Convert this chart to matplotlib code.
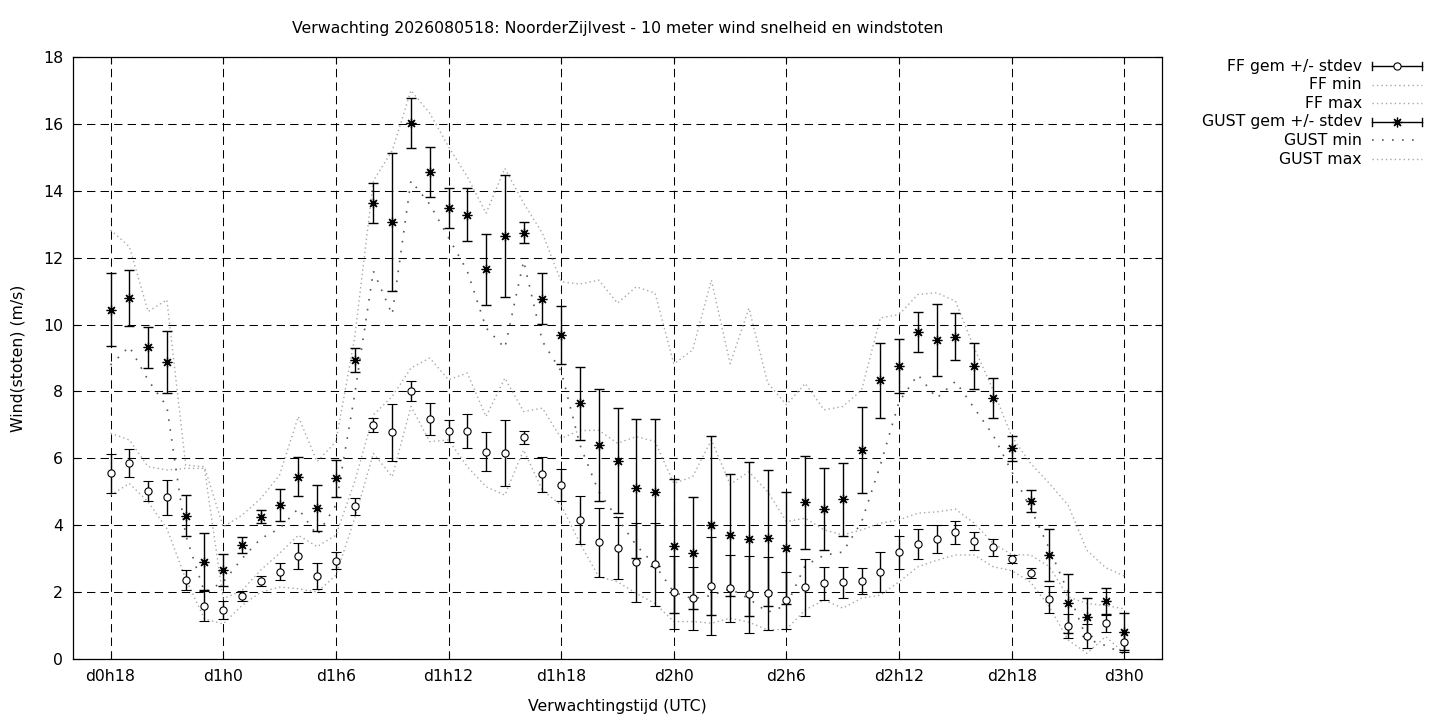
import matplotlib
matplotlib.use("Agg")
import matplotlib.pyplot as plt
from matplotlib.lines import Line2D

# ---- data -------------------------------------------------------------
hours = list(range(18, 73))

ff_mean = [5.55, 5.85, 5.02, 4.83, 2.36, 1.58, 1.47, 1.88, 2.33, 2.61,
           3.08, 2.48, 2.94, 4.56, 7.00, 6.78, 8.01, 7.17, 6.82, 6.82,
           6.20, 6.17, 6.63, 5.52, 5.20, 4.16, 3.49, 3.31, 2.89, 2.83,
           1.99, 1.81, 2.18, 2.11, 1.94, 1.96, 1.76, 2.14, 2.26, 2.29,
           2.33, 2.59, 3.19, 3.43, 3.59, 3.79, 3.53, 3.34, 2.99, 2.56,
           1.78, 0.99, 0.69, 1.07, 0.50]
ff_std = [0.58, 0.42, 0.29, 0.52, 0.30, 0.45, 0.26, 0.16, 0.14, 0.26,
          0.38, 0.38, 0.25, 0.26, 0.22, 0.85, 0.29, 0.47, 0.34, 0.52,
          0.58, 0.99, 0.20, 0.52, 0.48, 0.71, 1.03, 0.93, 1.18, 1.25,
          1.10, 0.94, 1.46, 1.00, 1.15, 1.09, 0.85, 0.85, 0.49, 0.47,
          0.39, 0.60, 0.50, 0.45, 0.41, 0.35, 0.26, 0.25, 0.13, 0.15,
          0.40, 0.35, 0.37, 0.25, 0.30]
ff_min = [4.90, 5.25, 4.70, 3.90, 2.40, 1.20, 1.05, 1.60, 2.00, 2.15,
          2.10, 2.00, 2.50, 4.20, 6.15, 5.45, 7.55, 6.50, 6.55, 5.75,
          5.15, 4.90, 6.25, 5.05, 4.60, 3.46, 2.46, 2.31, 1.96, 1.66,
          1.12, 1.12, 1.07, 1.22, 1.10, 0.87, 0.89, 1.47, 1.76, 1.52,
          1.82, 1.91, 2.31, 2.76, 2.95, 3.11, 3.11, 2.76, 2.64, 2.30,
          1.56, 0.57, 0.17, 0.67, 0.17]
ff_max = [6.75, 6.55, 5.75, 5.65, 5.70, 5.70, 1.80, 2.05, 2.66, 3.16,
          3.70, 3.36, 3.70, 5.30, 7.30, 7.85, 8.70, 9.00, 8.35, 8.55,
          7.25, 8.40, 7.40, 7.50, 6.60, 6.83, 6.84, 6.45, 6.65, 6.50,
          5.25, 5.45, 6.55, 5.22, 5.60, 5.00, 4.11, 4.21, 3.86, 3.71,
          3.86, 4.06, 4.16, 4.36, 4.40, 4.48, 4.06, 3.46, 3.12, 3.11,
          2.76, 1.86, 1.66, 1.60, 1.50]

gust_mean = [10.44, 10.79, 9.32, 8.87, 4.28, 2.91, 2.66, 3.41, 4.26, 4.61,
             5.45, 4.51, 5.40, 8.94, 13.63, 13.06, 16.02, 14.55, 13.48, 13.28,
             11.65, 12.65, 12.75, 10.77, 9.68, 7.65, 6.39, 5.93, 5.10, 4.98,
             3.38, 3.16, 4.00, 3.70, 3.58, 3.61, 3.31, 4.68, 4.48, 4.77,
             6.24, 8.33, 8.75, 9.77, 9.54, 9.64, 8.76, 7.80, 6.30, 4.73,
             3.11, 1.66, 1.25, 1.73, 0.82]
gust_std = [1.09, 0.84, 0.61, 0.93, 0.61, 0.85, 0.48, 0.25, 0.19, 0.48,
            0.58, 0.68, 0.55, 0.36, 0.60, 2.06, 0.75, 0.75, 0.60, 0.79,
            1.06, 1.83, 0.31, 0.76, 0.86, 1.09, 1.68, 1.57, 2.07, 2.20,
            2.00, 1.67, 2.68, 1.83, 2.30, 2.03, 1.67, 1.39, 1.22, 1.08,
            1.28, 1.11, 0.81, 0.60, 1.08, 0.70, 0.68, 0.60, 0.38, 0.32,
            0.77, 0.88, 0.57, 0.38, 0.55]
gust_min = [8.79, 9.34, 8.34, 7.55, 3.70, 2.00, 2.30, 3.00, 3.60, 3.90,
            4.50, 3.70, 4.60, 7.90, 11.60, 10.30, 14.30, 13.60, 12.60, 11.60,
            9.90, 9.30, 11.90, 9.50, 8.60, 6.40, 5.00, 4.20, 3.40, 2.80,
            2.00, 1.80, 1.90, 2.10, 1.80, 1.40, 1.60, 2.80, 3.10, 3.20,
            4.10, 5.80, 7.70, 8.50, 7.80, 8.30, 7.50, 6.70, 5.60, 4.50,
            3.30, 2.00, 0.60, 0.40, 0.15]
gust_max = [12.83, 12.33, 10.39, 10.74, 5.80, 5.75, 3.95, 4.30, 4.80, 5.50,
            7.25, 5.90, 6.50, 9.60, 14.30, 15.20, 17.00, 16.32, 15.32, 14.42,
            13.33, 14.67, 13.63, 12.73, 11.28, 11.21, 11.33, 10.64, 11.13, 10.94,
            8.82, 9.24, 11.33, 8.83, 10.49, 8.25, 7.60, 8.24, 7.45, 7.55,
            8.04, 10.20, 10.30, 10.90, 10.95, 10.70, 9.30, 8.05, 6.65, 5.85,
            5.25, 4.60, 3.25, 2.73, 2.48]

tick_hours = list(range(18, 73, 6))
tick_labels = ["d%dh%d" % (h // 24, h % 24) for h in tick_hours]
y_ticks = list(range(0, 19, 2))

title = "Verwachting 2026080518: NoorderZijlvest - 10 meter wind snelheid en windstoten"
legend_labels = ["FF gem +/- stdev", "FF min", "FF max",
                 "GUST gem +/- stdev", "GUST min", "GUST max"]

# ---- style -------------------------------------------------------------
W, H = 1440, 720
FS = 11.35
LIGHT = "#a8a8a8"
DARK = "#5a5a5a"
light_ls = (0, (1, 2.2))
dark_ls = (0, (1, 5))
star = (8, 2, 0)

fig = plt.figure(figsize=(W / 100, H / 100), dpi=100)
L, R, T, B = 73, 1162, 57, 659
ax = fig.add_axes([L / W, 1 - B / H, (R - L) / W, (B - T) / H])

ax.plot(hours, ff_min, color=LIGHT, lw=1.0, ls=light_ls, zorder=2)
ax.plot(hours, ff_max, color=LIGHT, lw=1.0, ls=light_ls, zorder=2)
ax.plot(hours, gust_min, color=DARK, lw=1.2, ls=dark_ls, zorder=2)
ax.plot(hours, gust_max, color=LIGHT, lw=1.0, ls=light_ls, zorder=2)

ax.errorbar(hours, ff_mean, yerr=ff_std, fmt="o", ms=5.2, mfc="white",
            mec="black", mew=0.8, ecolor="black", elinewidth=1.0,
            capsize=3.6, capthick=1.0, zorder=4)
ax.errorbar(hours, gust_mean, yerr=gust_std, fmt="none", ecolor="black",
            elinewidth=1.0, capsize=3.6, capthick=1.0, zorder=4)
ax.plot(hours, gust_mean, ls="none", marker=star, ms=7, mec="black",
        mew=0.9, color="black", zorder=5)

ax.set_xlim(16, 74)
ax.set_ylim(0, 18)
ax.set_xticks(tick_hours)
ax.set_xticklabels(tick_labels)
ax.set_yticks(y_ticks)
ax.grid(True, color="black", lw=0.75, ls=(0, (8, 5)))
ax.set_axisbelow(True)
ax.tick_params(direction="in", top=True, right=True, length=5, width=0.8,
               labelsize=FS, pad=7, colors="black")
for s in ax.spines.values():
    s.set_linewidth(0.9)

fig.text(((L + R) / 2) / W, 1 - 29 / H, title, ha="center", va="center", fontsize=FS)
fig.text(((L + R) / 2) / W, 1 - 706 / H, "Verwachtingstijd (UTC)",
         ha="center", va="center", fontsize=FS)
fig.text(18 / W, 1 - ((T + B) / 2) / H, "Wind(stoten) (m/s)", rotation=90,
         ha="center", va="center", fontsize=FS)

# ---- legend (gnuplot style key) ----
x_text, x0, x1 = 1362, 1372, 1422
xc = (x0 + x1) / 2
styles = ["ff", "light", "light", "gust", "dark", "light"]
for i, (lab, st) in enumerate(zip(legend_labels, styles)):
    ypx = 66 + i * 18.6
    yf = 1 - ypx / H
    fig.text(x_text / W, yf, lab, ha="right", va="center", fontsize=FS)
    tr = fig.transFigure
    if st in ("ff", "gust"):
        fig.add_artist(Line2D([x0 / W, x1 / W], [yf, yf], color="black", lw=1.0, transform=tr))
        for xx in (x0, x1):
            fig.add_artist(Line2D([xx / W, xx / W], [yf - 4 / H, yf + 4 / H],
                                  color="black", lw=1.0, transform=tr))
        if st == "ff":
            fig.add_artist(Line2D([xc / W], [yf], ls="none", marker="o", ms=5.2,
                                  mfc="white", mec="black", mew=0.8, transform=tr))
        else:
            fig.add_artist(Line2D([xc / W], [yf], ls="none", marker=star, ms=7,
                                  mec="black", mew=0.9, transform=tr))
    elif st == "light":
        fig.add_artist(Line2D([x0 / W, x1 / W], [yf, yf], color=LIGHT, lw=1.0,
                              ls=light_ls, transform=tr))
    else:
        fig.add_artist(Line2D([x0 / W, x1 / W], [yf, yf], color=DARK, lw=1.2,
                              ls=dark_ls, transform=tr))

fig.savefig("out.png", dpi=100)
